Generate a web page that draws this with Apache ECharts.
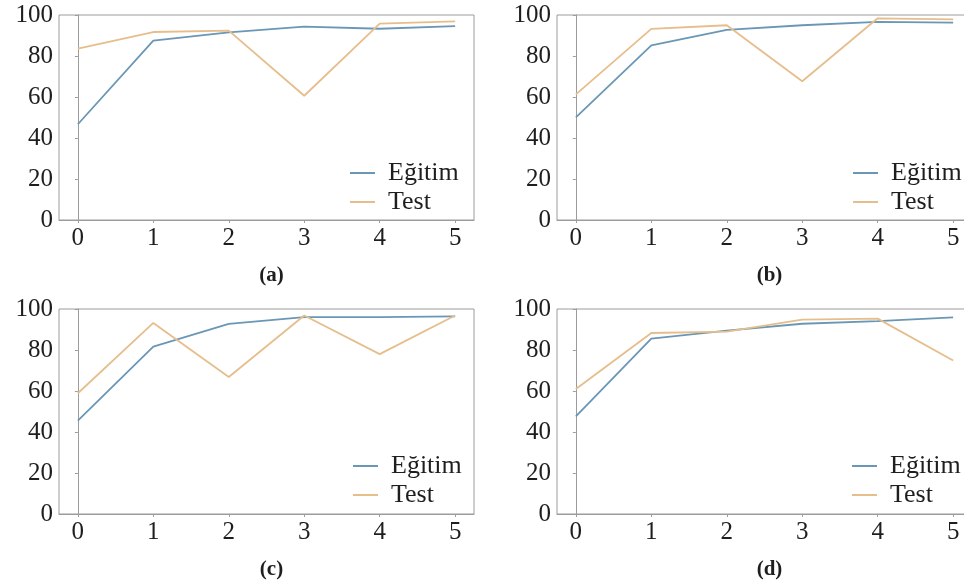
<!DOCTYPE html>
<html>
<head>
<meta charset="utf-8">
<script src="https://cdn.jsdelivr.net/npm/echarts@6/dist/echarts.min.js"></script>
<style>
  html, body { margin: 0; padding: 0; background: #fff; }
  #main { width: 964px; height: 587px; }
</style>
</head>
<body>
<div id="main"></div>
<script>
// epoch numbers on x axis
var epochs = [0, 1, 2, 3, 4, 5]
var yTicks = [0, 20, 40, 60, 80, 100]
var seriesNames = ['Eğitim', 'Test']
var panelLabels = ['(a)', '(b)', '(c)', '(d)']

// accuracy values
var egitimA = [46.7, 87.5, 91.5, 94.3, 93.3, 94.6]
var testA = [83.6, 91.7, 92.4, 60.6, 95.8, 96.9]
var egitimB = [50.1, 85.2, 92.7, 95.0, 96.6, 96.3]
var testB = [61.3, 93.2, 95.0, 67.7, 98.4, 97.9]
var egitimC = [45.6, 81.6, 92.7, 96.0, 96.0, 96.4]
var testC = [58.9, 93.2, 66.8, 96.8, 78.0, 96.8]
var egitimD = [47.6, 85.6, 89.5, 92.8, 94.1, 95.9]
var testD = [61.0, 88.3, 89.0, 94.8, 95.3, 74.9]

var egitimAll = [egitimA, egitimB, egitimC, egitimD]
var testAll = [testA, testB, testC, testD]

var blue = '#6a97b6'
var orange = '#e6be8c'
var frameColor = '#9c9c9c'
var textColor = '#1e1e1e'
var fontFam = '"Liberation Serif", "DejaVu Serif", serif'

// panel boxes (left, top, legend x offset) - width/height shared
var boxes = [
  { left: 59, top: 15, legX: 291, legY: 145 },
  { left: 557, top: 15, legX: 296, legY: 145 },
  { left: 59, top: 309, legX: 294, legY: 144 },
  { left: 557, top: 309, legX: 295, legY: 144 }
]
var boxW = 415
var boxH = 205

function toPairs(vals) {
  var out = []
  for (var i = 0; i < vals.length; i++) {
    out.push([epochs[i], vals[i]])
  }
  return out
}

var grids = []
var xAxes = []
var yAxes = []
var series = []
var legends = []
var titles = []

for (var p = 0; p < 4; p++) {
  var b = boxes[p]
  grids.push({
    left: b.left,
    top: b.top,
    width: boxW,
    height: boxH,
    show: true,
    borderColor: frameColor,
    borderWidth: 1,
    containLabel: false,
    outerBoundsMode: 'none'
  })
  xAxes.push({
    type: 'value',
    gridIndex: p,
    min: -0.25,
    max: 5.25,
    axisLine: { show: true, onZero: false, lineStyle: { color: frameColor, width: 1 } },
    axisTick: { show: true, length: 3, customValues: epochs, lineStyle: { color: frameColor } },
    splitLine: { show: false },
    axisLabel: {
      customValues: epochs,
      color: textColor,
      fontFamily: fontFam,
      fontSize: 25,
      margin: 6
    }
  })
  yAxes.push({
    type: 'value',
    gridIndex: p,
    min: 0,
    max: 100,
    interval: 20,
    axisLine: { show: true, lineStyle: { color: frameColor, width: 1 } },
    axisTick: { show: true, length: 3, lineStyle: { color: frameColor } },
    splitLine: { show: false },
    axisLabel: {
      color: textColor,
      fontFamily: fontFam,
      fontSize: 25,
      margin: 6
    }
  })
  series.push({
    name: seriesNames[0],
    type: 'line',
    xAxisIndex: p,
    yAxisIndex: p,
    data: toPairs(egitimAll[p]),
    showSymbol: false,
    symbol: 'none',
    lineStyle: { color: blue, width: 1.8 },
    itemStyle: { color: blue },
    z: 2
  })
  series.push({
    name: seriesNames[1],
    type: 'line',
    xAxisIndex: p,
    yAxisIndex: p,
    data: toPairs(testAll[p]),
    showSymbol: false,
    symbol: 'none',
    lineStyle: { color: orange, width: 1.8 },
    itemStyle: { color: orange },
    z: 3
  })
  legends.push({
    orient: 'vertical',
    left: b.left + b.legX,
    top: b.top + b.legY,
    padding: 0,
    itemWidth: 25,
    itemHeight: 2,
    itemGap: 3,
    icon: 'rect',
    data: seriesNames,
    textStyle: { color: textColor, fontFamily: fontFam, fontSize: 26, padding: [0, 0, 0, 8] },
    selectedMode: false
  })
  titles.push({
    text: panelLabels[p],
    left: b.left + boxW / 2,
    top: b.top + 245,
    textAlign: 'center',
    textStyle: { color: textColor, fontFamily: fontFam, fontSize: 21, fontWeight: 'bold' }
  })
}

var myChart = echarts.init(document.getElementById('main'))
myChart.setOption({
  animation: false,
  title: titles,
  legend: legends,
  grid: grids,
  xAxis: xAxes,
  yAxis: yAxes,
  series: series
})
</script>
</body>
</html>
